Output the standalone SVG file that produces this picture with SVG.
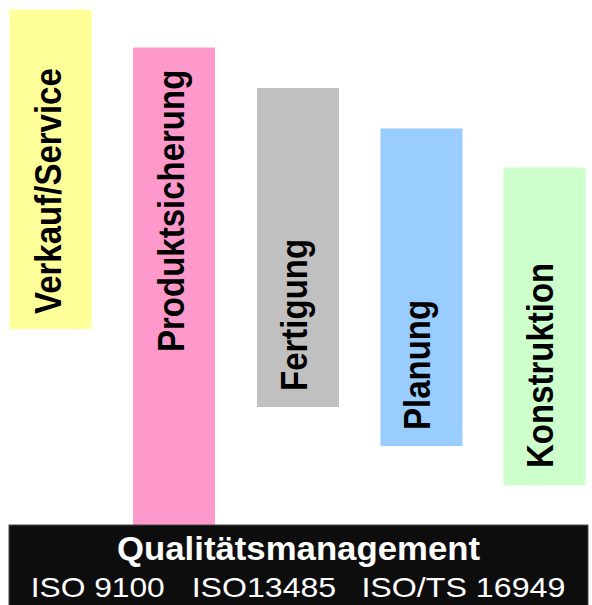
<svg xmlns="http://www.w3.org/2000/svg" width="592" height="605" viewBox="0 0 592 605">
<style>
.bar{stroke:none}
.lbl{font-family:"Liberation Sans",Arial,sans-serif;font-weight:bold;font-size:33px;fill:#000}
.qm{font-family:"Liberation Sans",Arial,sans-serif;font-weight:bold;font-size:33px;fill:#fff}
.iso{font-family:"Liberation Sans",Arial,sans-serif;font-size:28px;fill:#fff}
</style>
<rect width="592" height="605" fill="#fff"/>
<g id="verkauf">
<rect class="bar" x="9.5" y="9.5" width="82" height="319.5" fill="#FFFF99"/>
<text class="lbl" transform="translate(60.5,314) scale(1.13,1) rotate(-90)">Verkauf/Service</text>
</g>
<g id="produktsicherung">
<rect class="bar" x="133" y="47.5" width="82" height="478" fill="#FF99CC"/>
<text class="lbl" transform="translate(184,352) scale(1.13,1) rotate(-90)">Produktsicherung</text>
</g>
<g id="fertigung">
<rect class="bar" x="257" y="88" width="82" height="319" fill="#C0C0C0"/>
<text class="lbl" transform="translate(306.5,391) scale(1.13,1) rotate(-90)">Fertigung</text>
</g>
<g id="planung">
<rect class="bar" x="380.5" y="128.5" width="82" height="317.5" fill="#99CCFF"/>
<text class="lbl" transform="translate(430,430) scale(1.13,1) rotate(-90)">Planung</text>
</g>
<g id="konstruktion">
<rect class="bar" x="503.5" y="167.5" width="82" height="318" fill="#CCFFCC"/>
<text class="lbl" transform="translate(553,468) scale(1.13,1) rotate(-90)">Konstruktion</text>
</g>
<g id="qualitaetsmanagement">
<rect x="9" y="525" width="579" height="81" fill="#0d0d0d" stroke="#4a4a4a" stroke-width="1"/>
<text class="qm" x="117" y="559.5" textLength="363" lengthAdjust="spacingAndGlyphs">Qualitätsmanagement</text>
<text class="iso" y="597"><tspan x="30.7" textLength="134" lengthAdjust="spacingAndGlyphs">ISO 9100</tspan><tspan x="191.7" textLength="144.5" lengthAdjust="spacingAndGlyphs">ISO13485</tspan><tspan x="361.4" textLength="204" lengthAdjust="spacingAndGlyphs">ISO/TS 16949</tspan></text>
</g>
<g id="connectors"/>
</svg>
